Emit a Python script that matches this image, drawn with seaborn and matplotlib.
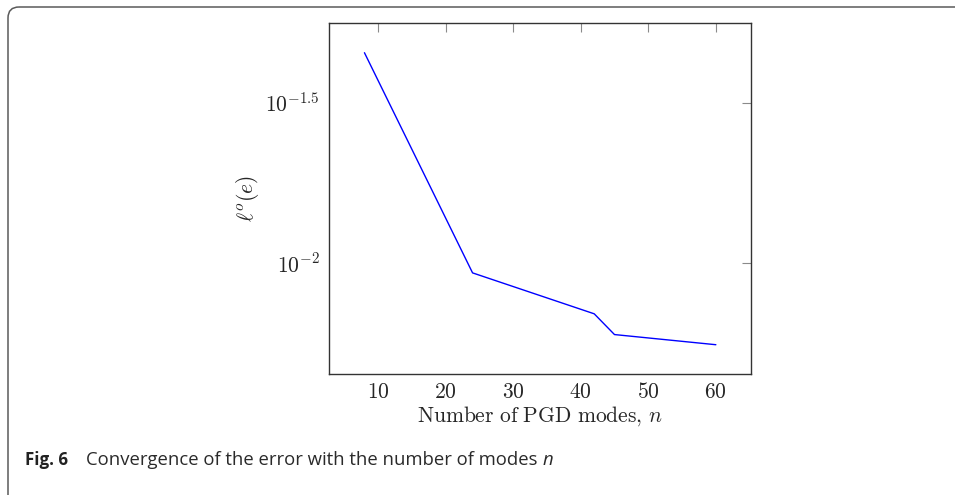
import numpy as np
import pandas as pd
import matplotlib
matplotlib.use("Agg")
import matplotlib.pyplot as plt
import seaborn as sns
from matplotlib.patches import FancyBboxPatch

# ---- data ----
modes = [8, 24, 42, 45, 60]
error = [0.0453, 0.00929, 0.00692, 0.00596, 0.00554]
x_ticks = [10, 20, 30, 40, 50, 60]
y_ticks = [10 ** -2, 10 ** -1.5]
y_tick_labels = [r"$10^{-2}$", r"$10^{-1.5}$"]
x_label = r"$\mathrm{Number\ of\ PGD\ modes,}\,n$"
y_label = r"$\ell^o(e)$"
caption_bold = "Fig. 6"
caption_text = "Convergence of the error with the number of modes"
caption_var = "n"

sns.set_style("white")
plt.rcParams["mathtext.fontset"] = "cm"
plt.rcParams["font.family"] = ["DejaVu Sans"]

W, H = 955, 495
fig = plt.figure(figsize=(W / 100, H / 100), dpi=100)

# background overlay in pixel coordinates for the rounded frame
bg = fig.add_axes([0, 0, 1, 1], zorder=0)
bg.set_xlim(0, W)
bg.set_ylim(H, 0)
bg.axis("off")
frame = FancyBboxPatch((8, 7), 1000, 520,
                       boxstyle="round,pad=0,rounding_size=11",
                       fc="none", ec="#5a5a5a", lw=1.1)
bg.add_patch(frame)

# main axes
left, right, top, bottom = 329.3, 751.0, 23.3, 374.0
ax = fig.add_axes([left / W, 1 - bottom / H, (right - left) / W, (bottom - top) / H], zorder=1)
ax.patch.set_alpha(0)

df = pd.DataFrame({"n": modes, "err": error})
sns.lineplot(data=df, x="n", y="err", ax=ax, color="#0000ff", lw=1.0)

ax.set_yscale("log")
ax.set_xlim(2.8, 65.2)
ax.set_ylim(10 ** -2.348, 10 ** -1.252)
ax.set_xticks(x_ticks)
ax.set_xticklabels([rf"${t}$" for t in x_ticks])
ax.set_yticks(y_ticks)
ax.set_yticklabels(y_tick_labels)
ax.yaxis.set_minor_locator(matplotlib.ticker.NullLocator())
ax.tick_params(axis="both", which="major", direction="in", length=6.5, width=0.8,
               color="#8a8a8a", labelsize=15.5, top=True, right=True, pad=6)
ax.tick_params(axis="y", pad=7)
for s in ax.spines.values():
    s.set_color("#333333")
    s.set_linewidth(1.0)

ax.set_xlabel(x_label, fontsize=15.5)
ax.set_ylabel(y_label, fontsize=15.5)
ax.xaxis.set_label_coords(0.5, -0.085)
ax.yaxis.set_label_coords(-0.163, 0.5)

# caption
cy = 1 - 460 / H
fig.text(25 / W, cy, caption_bold, fontsize=12.2, fontweight="bold",
         family="Open Sans", va="center", ha="left", color="#222222")
t = fig.text(86 / W, cy, caption_text, fontsize=13.3,
             family="Open Sans", va="center", ha="left", color="#2a2a2a")
fig.canvas.draw()
bb = t.get_window_extent()
fig.text((bb.x1 + 5) / W, cy, caption_var, fontsize=13.3, style="italic",
         family="Open Sans", va="center", ha="left", color="#2a2a2a")

fig.savefig("out.png", dpi=100)
